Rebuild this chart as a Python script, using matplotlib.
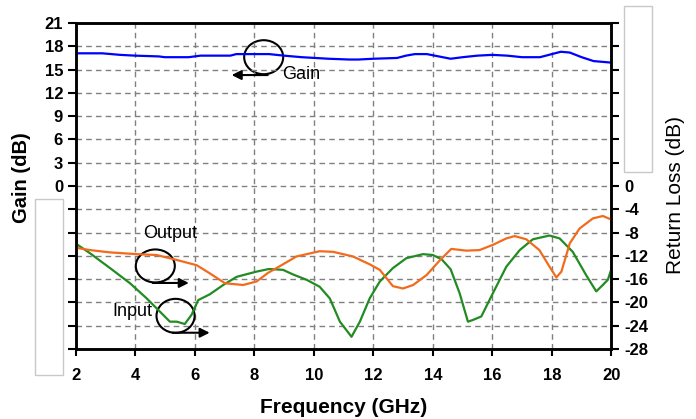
import matplotlib.pyplot as plt
from matplotlib.patches import Ellipse, Rectangle
import numpy as np

plt.rcParams['font.family'] = ['Liberation Sans', 'DejaVu Sans']

# gain curve (left axis)
gain_freq = [2.0, 2.9, 3.5, 4.0, 4.8, 5.0, 5.8, 6.2, 7.2, 7.4, 8.5, 9.0, 9.6, 10.5, 11.2, 11.5,
             12.0, 12.8, 13.1, 13.4, 13.8, 14.2, 14.6, 15.0, 15.5, 16.0, 16.5, 17.0, 17.6, 18.0,
             18.3, 18.6, 19.0, 19.4, 20.0]
gain_db = [17.1, 17.1, 16.9, 16.8, 16.7, 16.6, 16.6, 16.8, 16.8, 17.0, 17.0, 16.8, 16.6, 16.4, 16.3, 16.3,
           16.4, 16.5, 16.8, 17.0, 17.0, 16.7, 16.4, 16.6, 16.8, 16.9, 16.8, 16.6, 16.6, 17.0,
           17.3, 17.2, 16.6, 16.1, 15.9]

# input return loss (right axis)
input_freq = [2.0, 2.49, 3.16, 3.83, 4.39, 4.84, 5.17, 5.4, 5.67, 5.9, 6.12, 6.51, 6.96, 7.41, 8.08,
              8.5, 8.97, 9.31, 9.76, 10.2, 10.54, 10.88, 11.27, 11.55, 11.88, 12.22, 12.66, 13.11,
              13.67, 14.0, 14.3, 14.6, 14.9, 15.18, 15.35, 15.63, 16.02, 16.47, 16.92, 17.36, 17.92,
              18.26, 18.7, 19.15, 19.49, 19.71, 19.88, 19.97]
input_rl = [-9.85, -11.56, -14.1, -16.7, -19.3, -21.6, -23.3, -23.3, -23.7, -22.1, -19.6, -18.6, -17.0,
            -15.6, -14.7, -14.25, -14.4, -15.2, -16.1, -17.3, -19.3, -23.3, -25.9, -23.3, -19.3, -16.4,
            -14.1, -12.4, -11.7, -11.85, -12.6, -14.3, -18.4, -23.3, -23.0, -22.4, -18.4, -13.85, -11.0,
            -9.15, -8.5, -9.0, -11.3, -15.3, -18.1, -17.0, -16.1, -14.7]

# output return loss (right axis)
output_freq = [2.0, 2.49, 3.16, 4.05, 4.72, 5.4, 6.07, 6.51, 7.02, 7.63, 8.08, 8.47, 8.75, 9.42, 10.2,
               10.65, 11.32, 11.88, 12.22, 12.66, 13.0, 13.34, 13.79, 14.23, 14.62, 15.13, 15.57,
               16.02, 16.47, 16.75, 17.14, 17.58, 17.92, 18.15, 18.32, 18.6, 18.93, 19.38, 19.71, 19.97]
output_rl = [-10.6, -11.0, -11.4, -11.7, -11.85, -12.7, -13.6, -15.0, -16.7, -17.0, -16.4, -14.9, -14.1,
             -12.1, -11.2, -11.3, -12.1, -13.45, -14.4, -17.2, -17.6, -17.0, -15.3, -12.8, -10.8, -11.1,
             -11.0, -10.1, -9.0, -8.6, -9.15, -11.0, -13.85, -15.7, -14.7, -9.85, -7.3, -5.55, -5.15, -5.7]

x_ticks = [2, 4, 6, 8, 10, 12, 14, 16, 18, 20]
gain_ticks = list(range(-21, 22, 3))
rl_ticks = list(range(-28, 29, 4))

fig = plt.figure(figsize=(6.96, 4.19), dpi=100)
ax = fig.add_axes([0.1085, 0.167, 0.770, 0.778])
ax2 = ax.twinx()

ax.plot(gain_freq, gain_db, color='#0000ff', lw=1.6)
ax2.plot(input_freq, input_rl, color='#228b22', lw=1.6)
ax2.plot(output_freq, output_rl, color='#f26b1d', lw=1.6)

ax.set_xlim(2, 20)
ax.set_ylim(-21, 21)
ax2.set_ylim(-28, 28)
ax.set_xticks(x_ticks)
ax.set_xticklabels([str(t) for t in x_ticks], fontweight='bold', fontsize=12)
ax.set_yticks(gain_ticks)
ax.set_yticklabels([str(t) if t >= 0 else '' for t in gain_ticks], fontweight='bold', fontsize=12)
ax2.set_yticks(rl_ticks)
ax2.set_yticklabels([str(t) if t <= 0 else '' for t in rl_ticks], fontweight='bold', fontsize=12)

ax.grid(True, color='#808080', ls=(0, (4, 3)), lw=1.0)
for a in (ax, ax2):
    for s in a.spines.values():
        s.set_linewidth(1.8)
ax.tick_params(axis='y', direction='out', length=6, width=1.5, pad=3)
ax.tick_params(axis='x', direction='out', length=5, width=1.5, pad=9)
ax2.tick_params(axis='y', direction='out', length=6, width=1.5, pad=3)

ax.set_xlabel('Frequency (GHz)', fontsize=15, fontweight='bold')
ax.set_ylabel('Gain (dB)', fontsize=14.5, fontweight='bold')
ax2.set_ylabel('Return Loss (dB)', fontsize=15)
ax.xaxis.set_label_coords(0.5, -0.18)
ax.xaxis.label.set_va('center')
ax.yaxis.set_label_coords(-0.1, 0.526)
ax.yaxis.label.set_va('center')
ax2.yaxis.set_label_coords(1.119, 0.472)
ax2.yaxis.label.set_va('center')

# annotations
ax.add_patch(Ellipse((8.32, 16.6), 1.31, 4.38, fill=False, ec='black', lw=1.5))
ax.annotate('', xy=(7.15, 14.3), xytext=(8.55, 14.3),
            arrowprops=dict(arrowstyle='-|>', color='black', lw=1.5, mutation_scale=14))
ax.text(8.93, 14.4, 'Gain', fontsize=13, va='center', ha='left')

ax2.add_patch(Ellipse((4.68, -13.73), 1.31, 5.67, fill=False, ec='black', lw=1.5))
ax2.annotate('', xy=(5.9, -16.65), xytext=(4.5, -16.65),
             arrowprops=dict(arrowstyle='-|>', color='black', lw=1.5, mutation_scale=14))
ax2.text(5.17, -8.1, 'Output', fontsize=13, va='center', ha='center')

ax2.add_patch(Ellipse((5.36, -22.3), 1.28, 5.84, fill=False, ec='black', lw=1.5))
ax2.annotate('', xy=(6.6, -25.2), xytext=(5.17, -25.2),
             arrowprops=dict(arrowstyle='-|>', color='black', lw=1.5, mutation_scale=14))
ax2.text(3.9, -21.6, 'Input', fontsize=13, va='center', ha='center')

# blank boxes covering the unused tick labels
fig.patches.append(Rectangle((35 / 696, 1 - 375 / 419), 28 / 696, 176 / 419, transform=fig.transFigure,
                             fc='white', ec='#c8c8c8', lw=1.0, zorder=5))
fig.patches.append(Rectangle((624 / 696, 1 - 172 / 419), 28 / 696, 166 / 419, transform=fig.transFigure,
                             fc='white', ec='#c8c8c8', lw=1.0, zorder=5))

fig.savefig('out.png', dpi=100)
